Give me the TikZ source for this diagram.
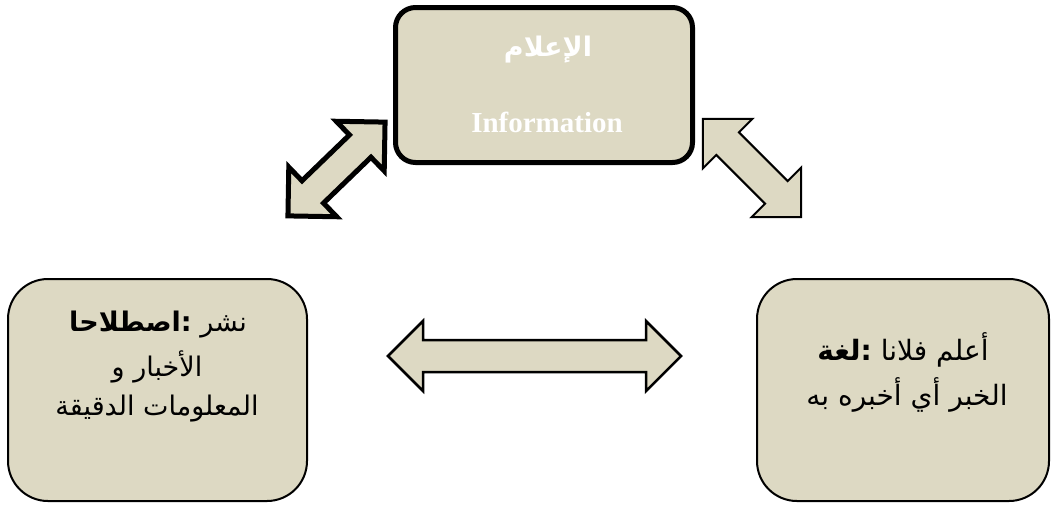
\documentclass[tikz,border=0pt]{standalone}
\usepackage{fontspec}
\setmainfont{Liberation Serif}
\newfontfamily\arabicfont[Script=Arabic]{DejaVu Sans}
\TeXXeTstate=1
\definecolor{tanfill}{HTML}{DDD9C3}
\tikzset{
  box/.style={draw=black, fill=tanfill, inner sep=0pt},
  arabtext/.style={font=\arabicfont\fontsize{27}{31}\selectfont, text=black, inner sep=0pt},
  arabtextr/.style={font=\arabicfont\fontsize{28}{32}\selectfont, text=black, inner sep=0pt},
  toptext/.style={text=white, inner sep=0pt},
  pics/blockarrow/.style n args={3}{code={
    \draw[fill=tanfill, line join=miter]
      (-#1/2,0) -- (-#1/2+#2,#2) -- (-#1/2+#2,#3) -- (#1/2-#2,#3) -- (#1/2-#2,#2)
      -- (#1/2,0) -- (#1/2-#2,-#2) -- (#1/2-#2,-#3) -- (-#1/2+#2,-#3) -- (-#1/2+#2,-#2) -- cycle;
  }}
}
\begin{document}
\begin{tikzpicture}[x=1pt, y=-1pt]
\useasboundingbox (0,0) rectangle (1051,507);
% block arrows
\pic[line width=5pt, rotate=44] at (336.5,169) {blockarrow={135}{34.5}{15.5}};
\pic[line width=2pt, rotate=-45] at (752,168) {blockarrow={139}{35}{16}};
\pic[line width=2.5pt] at (534.5,356) {blockarrow={293}{35}{16}};
% boxes
\node[box, line width=5pt, rounded corners=20pt, minimum width=297pt, minimum height=155pt] (top) at (544,85) {};
\node[box, line width=2pt, rounded corners=40pt, minimum width=299pt, minimum height=222pt] (left) at (157.5,390) {};
\node[box, line width=2pt, rounded corners=40pt, minimum width=292pt, minimum height=222pt] (right) at (903,390) {};
% top texts
\node[toptext, font=\arabicfont\bfseries\fontsize{27}{31}\selectfont] (topar) at (548,50) {\beginR الإعلام\endR};
\node[toptext, font=\bfseries\fontsize{29}{33}\selectfont] (topen) at (547,122) {Information};
% left texts
\node[arabtext] (l1) at (158,325) {\beginR نشر \textbf{:اصطلاحا}\endR};
\node[arabtext] (l2) at (157,367) {\beginR الأخبار و\endR};
\node[arabtext] (l3) at (157,409) {\beginR المعلومات الدقيقة\endR};
% right texts
\node[arabtextr] (r1) at (903,350) {\beginR أعلم فلانا \textbf{:لغة}\endR};
\node[arabtextr] (r2) at (907,395) {\beginR الخبر أي أخبره به\endR};
\end{tikzpicture}
\end{document}
